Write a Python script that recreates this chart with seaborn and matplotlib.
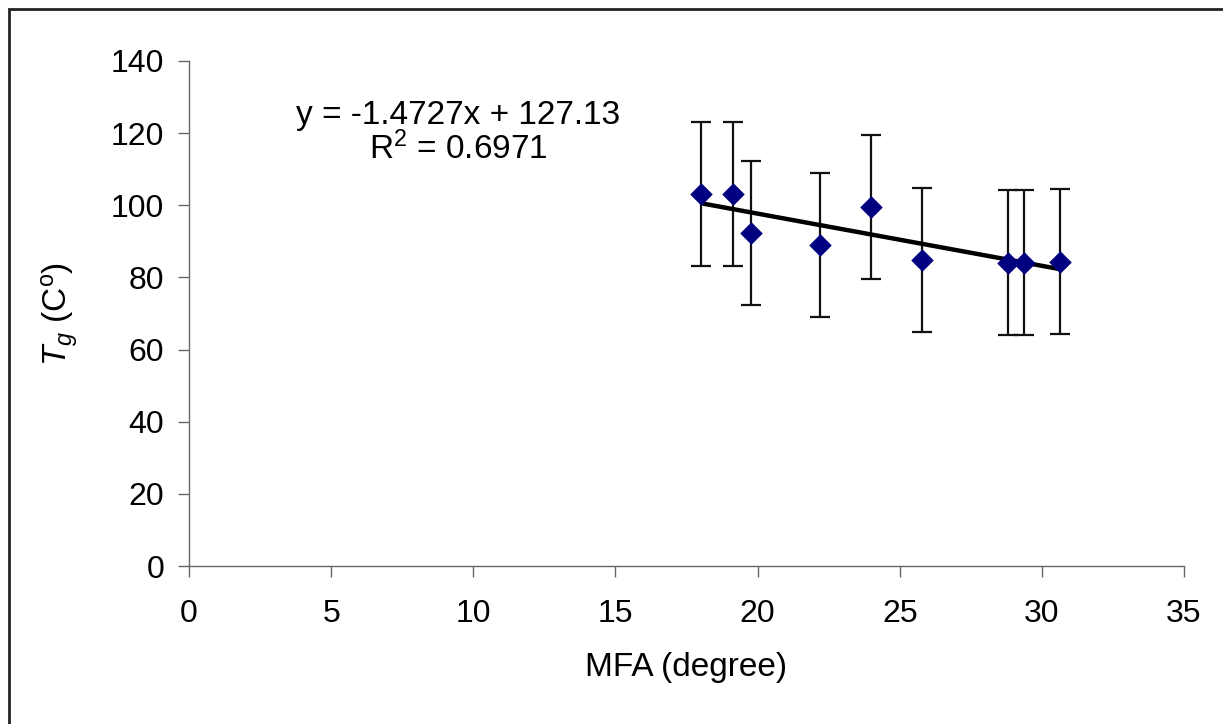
import matplotlib
matplotlib.use("Agg")
import matplotlib.pyplot as plt
from matplotlib.patches import Rectangle
import seaborn as sns
import numpy as np
import pandas as pd

# ---- data ----
mfa = [18.0, 19.13, 19.78, 22.2, 24.0, 25.8, 28.82, 29.37, 30.64]
tg = [103.1, 103.1, 92.4, 89.0, 99.6, 84.8, 84.1, 84.1, 84.4]
tg_err = [20, 20, 20, 20, 20, 20, 20, 20, 20]
x_ticks = [0, 5, 10, 15, 20, 25, 30, 35]
y_ticks = [0, 20, 40, 60, 80, 100, 120, 140]
eq_line1 = "y = -1.4727x + 127.13"
eq_line2 = r"R$^2$ = 0.6971"
x_label = "MFA (degree)"
y_label = r"$T_g$ (C$^{\mathrm{o}}$)"

df = pd.DataFrame({"MFA": mfa, "Tg": tg, "err": tg_err})

sns.set_theme(style="white")
plt.rcParams["font.family"] = ["Liberation Sans", "DejaVu Sans"]
plt.rcParams["mathtext.fontset"] = "custom"
plt.rcParams["mathtext.rm"] = "Liberation Sans"
plt.rcParams["mathtext.it"] = "Liberation Sans:italic"
plt.rcParams["mathtext.bf"] = "Liberation Sans:bold"
plt.rcParams["text.color"] = "black"
plt.rcParams["axes.labelcolor"] = "black"

fig = plt.figure(figsize=(12.23, 7.24), dpi=100)
ax = fig.add_axes([189 / 1223, 1 - 566 / 724, (1184 - 189) / 1223, (566 - 61) / 724])

# error bars
ax.errorbar(df["MFA"], df["Tg"], yerr=df["err"], fmt="none", ecolor="#111111",
            elinewidth=1.6, capsize=7, capthick=1.6, zorder=2)
# regression line
sns.regplot(data=df, x="MFA", y="Tg", scatter=False, ci=None, truncate=True,
            color="black", line_kws={"linewidth": 3.2, "solid_capstyle": "butt"}, ax=ax)
# points
sns.scatterplot(data=df, x="MFA", y="Tg", marker="D", s=120, color="#000080",
                edgecolor="#000080", linewidth=0.5, zorder=4, ax=ax)

ax.set_xlim(0, 35)
ax.set_ylim(0, 140)
ax.set_xticks(x_ticks)
ax.set_yticks(y_ticks)
ax.tick_params(axis="both", labelsize=23, colors="#666666", labelcolor="black",
               length=8, width=1, direction="out", bottom=True, left=True)
ax.tick_params(axis="x", pad=16)
ax.tick_params(axis="y", pad=10)
for s in ["top", "right"]:
    ax.spines[s].set_visible(False)
for s in ["left", "bottom"]:
    ax.spines[s].set_color("#666666")
    ax.spines[s].set_linewidth(1)

ax.set_xlabel(x_label, fontsize=24, labelpad=16)
ax.set_ylabel(y_label, fontsize=24, labelpad=22)

ax.text(9.46, 125.0, eq_line1, ha="center", va="center", fontsize=24)
ax.text(9.46, 115.7, eq_line2, ha="center", va="center", fontsize=24)

# outer frame
fig.patches.append(Rectangle((9 / 1223, -0.1), 1.2, 1 - 8.5 / 724 + 0.1,
                             transform=fig.transFigure, fill=False,
                             edgecolor="#222222", linewidth=2))

fig.savefig("out.png", dpi=100)
